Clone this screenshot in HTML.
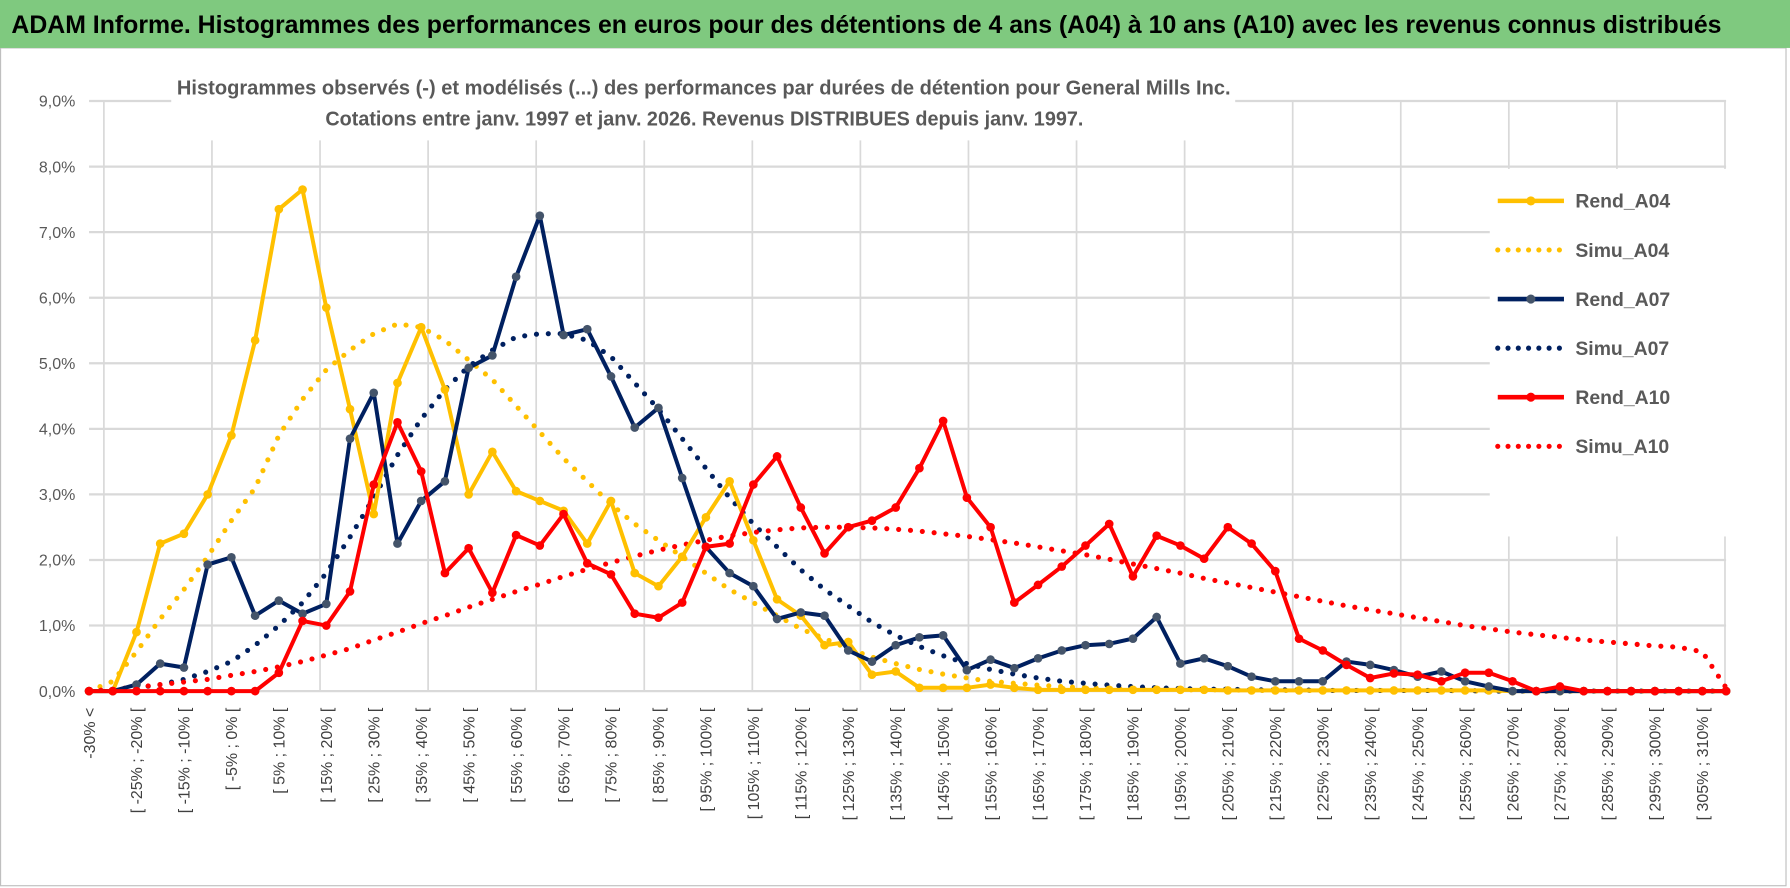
<!DOCTYPE html>
<html><head><meta charset="utf-8">
<style>
html,body{margin:0;padding:0;background:#fff;}
svg{display:block;font-family:"Liberation Sans",sans-serif;}
</style></head>
<body>
<svg id="chart" width="1790" height="888" viewBox="0 0 1568 778" preserveAspectRatio="none">
  <rect x="0" y="0" width="1568" height="778" fill="#fff"/>
  <rect x="0.5" y="42" width="1564" height="734" fill="#fff" stroke="#bfbfbf"/>
  <rect x="0" y="0" width="1568" height="42" fill="#7fc97f"/>
  <text x="10" y="29" font-size="22" font-weight="bold" fill="#000" textLength="1498" lengthAdjust="spacingAndGlyphs">ADAM Informe. Histogrammes des performances en euros pour des détentions de 4 ans (A04) à 10 ans (A10) avec les revenus connus distribués</text>
  <g id="grid"></g>
  <g id="yaxis"></g>
  <rect x="150" y="55" width="932" height="68" fill="#fff"/>
  <text x="155" y="83" font-size="18" font-weight="bold" fill="#595959" textLength="923" lengthAdjust="spacingAndGlyphs">Histogrammes observés (-) et modélisés (...) des performances par durées de détention pour General Mills Inc.</text>
  <text x="285" y="110" font-size="18" font-weight="bold" fill="#595959" textLength="664" lengthAdjust="spacingAndGlyphs">Cotations entre janv. 1997 et janv. 2026. Revenus DISTRIBUES depuis janv. 1997.</text>
  <rect x="1305" y="148" width="215" height="322" fill="#fff"/>
  <g id="series"></g>
  <g id="xaxis"></g>
  <g id="legend"></g>
</svg>
<script>
const categories = ["-30% <","[ -30% ; -25% [","[ -25% ; -20% [","[ -20% ; -15% [","[ -15% ; -10% [","[ -10% ; -5% [","[ -5% ; 0% [","[ 0% ; 5% [","[ 5% ; 10% [","[ 10% ; 15% [","[ 15% ; 20% [","[ 20% ; 25% [","[ 25% ; 30% [","[ 30% ; 35% [","[ 35% ; 40% [","[ 40% ; 45% [","[ 45% ; 50% [","[ 50% ; 55% [","[ 55% ; 60% [","[ 60% ; 65% [","[ 65% ; 70% [","[ 70% ; 75% [","[ 75% ; 80% [","[ 80% ; 85% [","[ 85% ; 90% [","[ 90% ; 95% [","[ 95% ; 100% [","[ 100% ; 105% [","[ 105% ; 110% [","[ 110% ; 115% [","[ 115% ; 120% [","[ 120% ; 125% [","[ 125% ; 130% [","[ 130% ; 135% [","[ 135% ; 140% [","[ 140% ; 145% [","[ 145% ; 150% [","[ 150% ; 155% [","[ 155% ; 160% [","[ 160% ; 165% [","[ 165% ; 170% [","[ 170% ; 175% [","[ 175% ; 180% [","[ 180% ; 185% [","[ 185% ; 190% [","[ 190% ; 195% [","[ 195% ; 200% [","[ 200% ; 205% [","[ 205% ; 210% [","[ 210% ; 215% [","[ 215% ; 220% [","[ 220% ; 225% [","[ 225% ; 230% [","[ 230% ; 235% [","[ 235% ; 240% [","[ 240% ; 245% [","[ 245% ; 250% [","[ 250% ; 255% [","[ 255% ; 260% [","[ 260% ; 265% [","[ 265% ; 270% [","[ 270% ; 275% [","[ 275% ; 280% [","[ 280% ; 285% [","[ 285% ; 290% [","[ 290% ; 295% [","[ 295% ; 300% [","[ 300% ; 305% [","[ 305% ; 310% [","> 310%"];
const yTicks = [0,1,2,3,4,5,6,7,8,9];
const yTickLabels = ["0,0%","1,0%","2,0%","3,0%","4,0%","5,0%","6,0%","7,0%","8,0%","9,0%"];
const rendA04 = [0,0,0.9,2.25,2.4,3.0,3.9,5.35,7.35,7.65,5.85,4.3,2.7,4.7,5.55,4.6,3.0,3.65,3.05,2.9,2.75,2.25,2.9,1.8,1.6,2.05,2.65,3.2,2.3,1.4,1.15,0.7,0.75,0.25,0.3,0.05,0.05,0.05,0.1,0.05,0.02,0.02,0.02,0.02,0.02,0.02,0.02,0.02,0.01,0.01,0.01,0.01,0.01,0.01,0.01,0.01,0.01,0.01,0.01,0.01,0,0,0,0,0,0,0,0,0,0];
const simuA04 = [0,0.15,0.6,1.1,1.55,2.05,2.6,3.1,3.9,4.45,4.9,5.2,5.45,5.6,5.55,5.35,5.05,4.75,4.35,3.95,3.55,3.2,2.85,2.55,2.3,2.05,1.8,1.55,1.35,1.15,0.95,0.8,0.65,0.52,0.42,0.33,0.26,0.2,0.15,0.12,0.09,0.07,0.05,0.04,0.03,0.03,0.02,0.02,0.02,0.01,0.01,0.01,0.01,0.01,0.01,0.01,0.01,0.01,0,0,0,0,0,0,0,0,0,0,0,0];
const rendA07 = [0,0,0.1,0.42,0.36,1.93,2.04,1.15,1.38,1.18,1.33,3.85,4.55,2.25,2.9,3.2,4.93,5.12,6.32,7.25,5.43,5.52,4.8,4.02,4.32,3.25,2.2,1.8,1.6,1.1,1.2,1.15,0.62,0.45,0.7,0.82,0.85,0.32,0.48,0.35,0.5,0.62,0.7,0.72,0.8,1.13,0.42,0.5,0.38,0.22,0.15,0.15,0.15,0.45,0.4,0.32,0.22,0.3,0.15,0.07,0,0,0,0,0,0,0,0,0,0];
const simuA07 = [0,0.02,0.05,0.1,0.18,0.3,0.45,0.7,1.0,1.35,1.8,2.35,2.95,3.6,4.15,4.6,4.95,5.2,5.4,5.45,5.45,5.35,5.1,4.7,4.3,3.85,3.4,2.95,2.55,2.2,1.85,1.55,1.3,1.05,0.85,0.68,0.54,0.42,0.33,0.26,0.2,0.15,0.12,0.09,0.07,0.05,0.04,0.03,0.03,0.02,0.02,0.02,0.01,0.01,0.01,0.01,0.01,0.01,0.01,0,0,0,0,0,0,0,0,0,0,0];
const rendA10 = [0,0,0,0,0,0,0,0,0.28,1.07,1.0,1.52,3.15,4.1,3.35,1.8,2.18,1.5,2.38,2.22,2.7,1.95,1.78,1.18,1.12,1.35,2.2,2.25,3.15,3.58,2.8,2.1,2.5,2.6,2.8,3.4,4.12,2.95,2.5,1.35,1.62,1.9,2.22,2.55,1.75,2.37,2.22,2.02,2.5,2.25,1.83,0.8,0.62,0.4,0.2,0.27,0.25,0.15,0.28,0.28,0.15,0,0.07,0,0,0,0,0,0,0];
const simuA10 = [0,0.03,0.06,0.1,0.14,0.18,0.24,0.3,0.37,0.45,0.55,0.65,0.78,0.9,1.03,1.15,1.28,1.4,1.52,1.63,1.75,1.86,1.96,2.06,2.15,2.23,2.3,2.37,2.42,2.46,2.49,2.5,2.5,2.49,2.47,2.44,2.4,2.36,2.31,2.26,2.2,2.14,2.08,2.01,1.94,1.87,1.8,1.72,1.65,1.58,1.51,1.44,1.37,1.3,1.24,1.18,1.12,1.06,1.0,0.95,0.9,0.86,0.82,0.78,0.75,0.72,0.69,0.67,0.6,0.05];
const seriesNames = ["Rend_A04","Simu_A04","Rend_A07","Simu_A07","Rend_A10","Simu_A10"];

const NS = "http://www.w3.org/2000/svg";
const X0 = 78, X1 = 1512, Y0 = 605.5, Y9 = 88.5;
function xScale(i){ return X0 + (X1 - X0) * i / (categories.length - 1); }
function yScale(v){ return Y0 - (Y0 - Y9) * v / 9; }
function mk(tag, attrs, parent){ const e = document.createElementNS(NS, tag); for (const k in attrs) e.setAttribute(k, attrs[k]); parent.appendChild(e); return e; }

const grid = document.getElementById('grid');
for (let k = 0; k <= 15; k++) {
  const gx = 91 + k * 94.67;
  const l = mk('line', {x1: gx, x2: gx, y1: Y9, y2: Y0, stroke: '#d9d9d9', 'stroke-width': 1.5}, grid);
  
  
}
const yaxis = document.getElementById('yaxis');
yTicks.forEach((t, i) => {
  const gy = yScale(t);
  const l = mk('line', {x1: X0, x2: X1, y1: gy, y2: gy, stroke: '#d9d9d9', 'stroke-width': 2}, grid);
  
  
  const tx = mk('text', {x: 66, y: gy + 5, 'font-size': 14, fill: '#595959', 'text-anchor': 'end'}, yaxis);
  tx.textContent = yTickLabels[i];
  
  
});

const xaxis = document.getElementById('xaxis');
categories.forEach((c, i) => {
  if (i % 2 !== 0) return;
  const cx = xScale(i) + 5;
  const tx = mk('text', {x: 0, y: 0, 'font-size': 14, fill: '#404040', 'text-anchor': 'end', transform: `translate(${cx},620) rotate(-90)`}, xaxis);
  tx.textContent = c;
  
  
});

const seriesG = document.getElementById('series');
const styles = [
  {data: simuA10, color: '#ff0000', dotted: true, name: 'simu-a10-line'},
  {data: simuA07, color: '#002060', dotted: true, name: 'simu-a07-line'},
  {data: simuA04, color: '#ffc000', dotted: true, name: 'simu-a04-line'},
  {data: rendA10, color: '#ff0000', dotted: false, name: 'rend-a10-line', marker: '#ff0000'},
  {data: rendA07, color: '#002060', dotted: false, name: 'rend-a07-line', marker: '#44546a'},
  {data: rendA04, color: '#ffc000', dotted: false, name: 'rend-a04-line', marker: '#ffc000'}
];
const order = [2, 1, 0, 5, 4, 3];
order.forEach(k => {
  const s = styles[k];
  const pts = s.data.map((v, i) => xScale(i).toFixed(1) + ',' + yScale(v).toFixed(1)).join(' ');
  const attrs = {points: pts, fill: 'none', stroke: s.color, 'stroke-linejoin': 'round'};
  if (s.dotted) { attrs['stroke-width'] = 4.5; attrs['stroke-dasharray'] = '0 10.4'; attrs['stroke-linecap'] = 'round'; }
  else { attrs['stroke-width'] = 3.5; }
  const pl = mk('polyline', attrs, seriesG);
  
  
  if (!s.dotted) {
    s.data.forEach((v, i) => {
      const c = mk('circle', {cx: xScale(i), cy: yScale(v), r: 3.8, fill: s.marker}, seriesG);
      
      
    });
  }
});

const legend = document.getElementById('legend');
const legendStyles = [
  {color: '#ffc000', dotted: false, marker: '#ffc000'},
  {color: '#ffc000', dotted: true},
  {color: '#002060', dotted: false, marker: '#44546a'},
  {color: '#002060', dotted: true},
  {color: '#ff0000', dotted: false, marker: '#ff0000'},
  {color: '#ff0000', dotted: true}
];
seriesNames.forEach((n, i) => {
  const ly = 176 + i * 43;
  const s = legendStyles[i];
  const g = mk('g', {}, legend);
  
  
  const attrs = {x1: 1312, x2: 1370, y1: ly, y2: ly, stroke: s.color};
  if (s.dotted) { attrs['stroke-width'] = 4.5; attrs['stroke-dasharray'] = '0 9'; attrs['stroke-linecap'] = 'round'; }
  else { attrs['stroke-width'] = 4; }
  mk('line', attrs, g);
  if (!s.dotted) mk('circle', {cx: 1341, cy: ly, r: 4, fill: s.marker}, g);
  const t = mk('text', {x: 1380, y: ly + 6, 'font-size': 17, 'font-weight': 'bold', fill: '#595959'}, g);
  t.textContent = n;
});
</script>
</body></html>
